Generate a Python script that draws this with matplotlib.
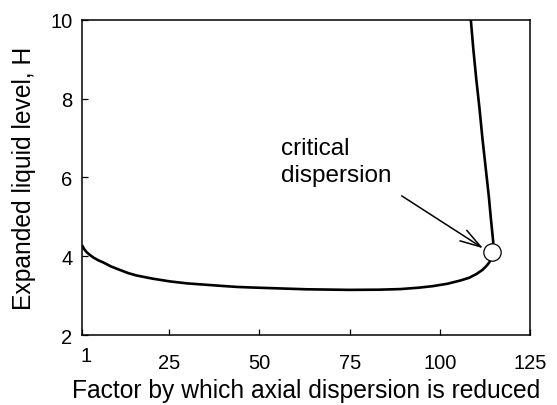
import matplotlib
matplotlib.use("Agg")
import matplotlib.pyplot as plt
import matplotlib.transforms as mtransforms

plt.rcParams['font.family'] = ['Liberation Sans', 'DejaVu Sans']

# lower branch (stable solution)
lower_x = [1, 1.6, 2.3, 3.2, 4.1, 5.4, 6.9, 9.0, 11.5, 13.8, 16.1, 20.5, 25.3, 30, 34.5, 39, 43.8, 48, 53, 63, 75,
           83, 89, 94, 98, 102, 105.5, 108, 110.1, 111.7, 112.9, 113.6, 114.0, 114.3]
lower_h = [4.28, 4.18, 4.10, 4.03, 3.97, 3.90, 3.84, 3.74, 3.65, 3.57, 3.51, 3.43, 3.36, 3.31, 3.28, 3.25, 3.22, 3.205,
           3.19, 3.16, 3.145, 3.15, 3.165, 3.20, 3.24, 3.30, 3.38, 3.45, 3.55, 3.65, 3.76, 3.84, 3.92, 4.11]

# upper branch, going up from the critical point
upper_x = [114.3, 114.7, 114.0, 113.5, 112.6, 111.7, 110.9, 110.0, 109.2, 108.5]
upper_h = [4.11, 4.36, 5.0, 5.5, 6.25, 7.0, 7.75, 8.5, 9.25, 10.0]

critical_x = 114.3
critical_h = 4.11

x_ticks = [1, 25, 50, 75, 100, 125]
y_ticks = [2, 4, 6, 8, 10]

fig = plt.figure(figsize=(5.57, 4.06), dpi=100)
ax = fig.add_axes([0.1472, 0.1724, 0.8052, 0.7766])

ax.plot(lower_x, lower_h, color='black', lw=1.9, solid_capstyle='butt', solid_joinstyle='round')
ax.plot(upper_x, upper_h, color='black', lw=1.9, solid_capstyle='butt', solid_joinstyle='round')
ax.plot([critical_x], [critical_h], 'o', ms=12.5, mfc='white', mec='black', mew=0.9, zorder=5)

ax.text(56, 7.02, 'critical\ndispersion', fontsize=17.5, ha='left', va='top', linespacing=1.3)
ax.annotate('', xy=(111.9, 4.2), xytext=(89.4, 5.53),
            arrowprops=dict(arrowstyle='->,head_length=1.5,head_width=0.45',
                            color='black', lw=1.1, shrinkA=0, shrinkB=0))

ax.set_xlim(1, 125)
ax.set_ylim(2, 10)
ax.set_xticks(x_ticks)
ax.set_yticks(y_ticks)
ax.tick_params(direction='in', length=4, width=0.9, labelsize=14.5)
ax.tick_params(axis='x', pad=13)
ax.tick_params(axis='y', pad=7)
first = ax.xaxis.get_major_ticks()[0]
first.set_pad(8)
first.label1.set_transform(first.label1.get_transform() +
                           mtransforms.ScaledTranslation(3 / 72, 0, fig.dpi_scale_trans))

for s in ax.spines.values():
    s.set_linewidth(1.1)

ax.set_xlabel('Factor by which axial dispersion is reduced', fontsize=17.7)
ax.set_ylabel('Expanded liquid level, H', fontsize=17.7)
ax.xaxis.set_label_coords(0.5006, -0.1744)
ax.yaxis.set_label_coords(-0.1304, 0.5)
ax.xaxis.label.set_va('center')
ax.yaxis.label.set_va('center')

fig.savefig('out.png', dpi=100)
